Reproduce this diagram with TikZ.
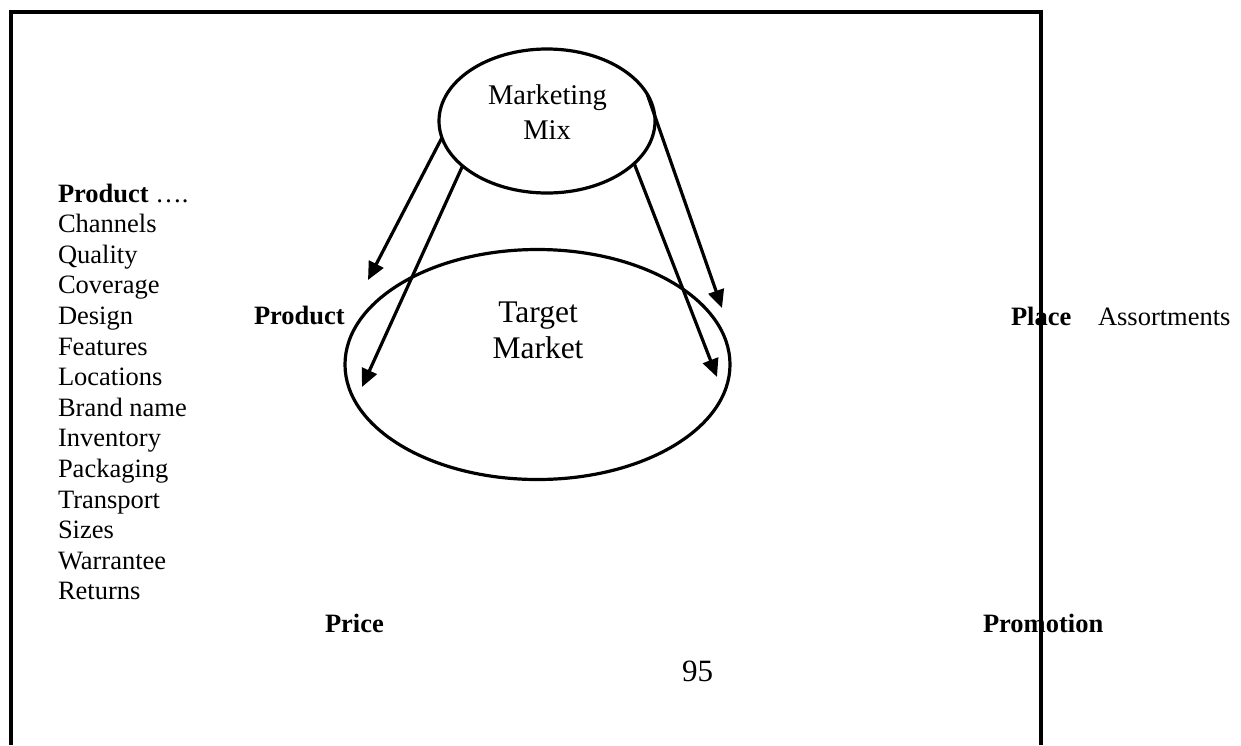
\documentclass[tikz,border=0pt]{standalone}
\usepackage{fontspec}
\setmainfont{Liberation Serif}
\usetikzlibrary{arrows.meta,shapes.geometric}

\tikzset{
  txt/.style={inner sep=0pt, outer sep=0pt, anchor=base west, font=\fontsize{26.5}{30.6}\selectfont},
  ctxt/.style={inner sep=0pt, outer sep=0pt, anchor=base},
  oval/.style={ellipse, draw, line width=3.2pt, inner sep=0pt, outer sep=0pt},
  link/.style={line width=3.2pt, -{Triangle[length=18pt,width=16pt]}},
  frameline/.style={line width=4pt, line join=miter}
}

\begin{document}
\begin{tikzpicture}[x=1pt, y=-1pt]
  \useasboundingbox (0,0) rectangle (1241,745);
  \fill[white] (0,0) rectangle (1241,745);

  % the two ovals
  \node[oval, minimum width=216pt, minimum height=144pt] (mix) at (547,121) {};
  \node[oval, minimum width=385pt, minimum height=230pt] (market) at (537.5,364.5) {};

  % oval captions
  \node[ctxt, font=\fontsize{28.5}{34}\selectfont] (mixA) at (547.5,104) {Marketing};
  \node[ctxt, font=\fontsize{28.5}{34}\selectfont] (mixB) at (547,139) {Mix};
  \node[ctxt, font=\fontsize{31.5}{36}\selectfont] (marketA) at (538,322) {Target};
  \node[ctxt, font=\fontsize{31.5}{36}\selectfont] (marketB) at (538,358) {Market};

  % free ends of the arrows
  \coordinate (endA) at (368,280);
  \coordinate (endB) at (362,387);
  \coordinate (endC) at (717,377);
  \coordinate (endD) at (722,308);

  \draw[link] (mix.189) -- (endA);
  \draw[link] (mix.208) -- (endB);
  \draw[link] (mix.334.5) -- (endC);
  \draw[link] (mix.15) -- (endD);

  % list on the left
  \foreach \t [count=\i from 0] in {{\textbf{Product} ….},Channels,Quality,Coverage,Design,Features,Locations,Brand name,Inventory,Packaging,Transport,Sizes,Warrantee,Returns}
    \node[txt] (item\i) at (58,{202+30.6*\i}) {\t};

  % the four P labels
  \node[txt, font=\fontsize{26.5}{30.6}\selectfont\bfseries] (product) at (254,324) {Product};
  \node[txt, font=\fontsize{26.5}{30.6}\selectfont\bfseries] (place) at (1011,325) {Place};
  \node[txt] (assort) at (1098,325) {Assortments};
  \node[txt, font=\fontsize{26.5}{30.6}\selectfont\bfseries] (price) at (325,632) {Price};
  \node[txt, font=\fontsize{26.5}{30.6}\selectfont\bfseries] (promo) at (983,632) {Promotion};

  % page number
  \node[txt, font=\fontsize{31}{36}\selectfont] (pagenum) at (682,681) {95};

  % open frame
  \coordinate (fBL) at (10.5,745);
  \coordinate (fTL) at (10.5,12);
  \coordinate (fTR) at (1040.5,12);
  \coordinate (fBR) at (1040.5,745);
  \draw[frameline] (fBL) -- (fTL) -- (fTR) -- (fBR);
\end{tikzpicture}
\end{document}
